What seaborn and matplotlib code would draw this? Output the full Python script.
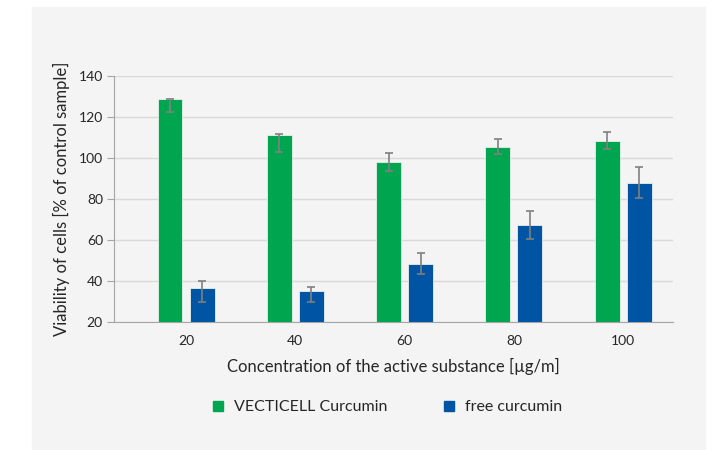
import pandas as pd
import matplotlib.pyplot as plt
import seaborn as sns
from matplotlib.lines import Line2D
from matplotlib.patches import Rectangle

# Data
concentrations = ["20", "40", "60", "80", "100"]
vecticell = [129.0, 111.2, 98.0, 105.3, 108.4]
vecticell_err_low = [6.7, 8.4, 4.3, 3.5, 4.2]
vecticell_err_high = [0.0, 0.5, 4.6, 3.8, 4.3]
free = [36.5, 35.3, 48.5, 67.2, 88.0]
free_err_low = [6.6, 5.5, 5.1, 6.9, 7.7]
free_err_high = [3.3, 1.9, 5.2, 7.1, 7.8]
series = ["VECTICELL Curcumin", "free curcumin"]
colors = ["#00a54f", "#0054a4"]

data = pd.DataFrame({
    "conc": concentrations * 2,
    "value": vecticell + free,
    "series": [series[0]] * 5 + [series[1]] * 5,
})

sns.set_style("white")
plt.rcParams['font.family'] = ['Lato', 'DejaVu Sans']

fig = plt.figure(figsize=(7.12, 4.5), dpi=100)
# light grey panel behind the chart
fig.patches.append(Rectangle((32 / 712, 0), (705 - 32) / 712, 1 - 7 / 450,
                             transform=fig.transFigure, color="#f4f4f4", zorder=-5))
ax = fig.add_axes([114 / 712, 1 - 322 / 450, (673 - 114) / 712, (322 - 76) / 450])
ax.set_facecolor("#f4f4f4")

sns.barplot(data=data, x="conc", y="value", hue="series", order=concentrations,
            hue_order=series, palette=colors, saturation=1, width=0.586, gap=0.22,
            edgecolor="#e8f0e8", linewidth=0.6, legend=False, ax=ax, zorder=3)

# error bars at the bar centres
errs = [(vecticell_err_low, vecticell_err_high), (free_err_low, free_err_high)]
for cont, vals, (lo, hi) in zip(ax.containers, [vecticell, free], errs):
    xs = [b.get_x() + b.get_width() / 2 for b in cont]
    ax.errorbar(xs, vals, yerr=[lo, hi], fmt="none", ecolor="#808080",
                elinewidth=1.2, capsize=3, capthick=1.2, zorder=4)

ax.set_xlim(-0.659, 4.456)
ax.set_ylim(20, 140)
ax.set_yticks(range(20, 141, 20))
ax.yaxis.grid(True, color="#d9d9d9", linewidth=1)
ax.set_axisbelow(True)
for s in ["top", "right"]:
    ax.spines[s].set_visible(False)
for s in ["left", "bottom"]:
    ax.spines[s].set_color("#a6a6a6")
ax.tick_params(axis="y", left=True, length=5, color="#a6a6a6", labelsize=10, pad=3)
ax.tick_params(axis="x", bottom=False, labelsize=10, pad=6)

ax.set_xlabel("Concentration of the active substance [µg/m]", fontsize=12, labelpad=8)
ax.set_ylabel("Viability of cells [% of control sample]", fontsize=12, labelpad=6)

handles = [Line2D([], [], marker="s", linestyle="none", markersize=7,
                  markerfacecolor=c, markeredgecolor=c) for c in colors]
fig.legend(handles, series, loc="center", bbox_to_anchor=(0.542, 1 - 407 / 450),
           ncol=2, frameon=False, fontsize=11.5, columnspacing=3.35,
           handletextpad=0.5, handlelength=1)

fig.savefig("out.png", dpi=100)
